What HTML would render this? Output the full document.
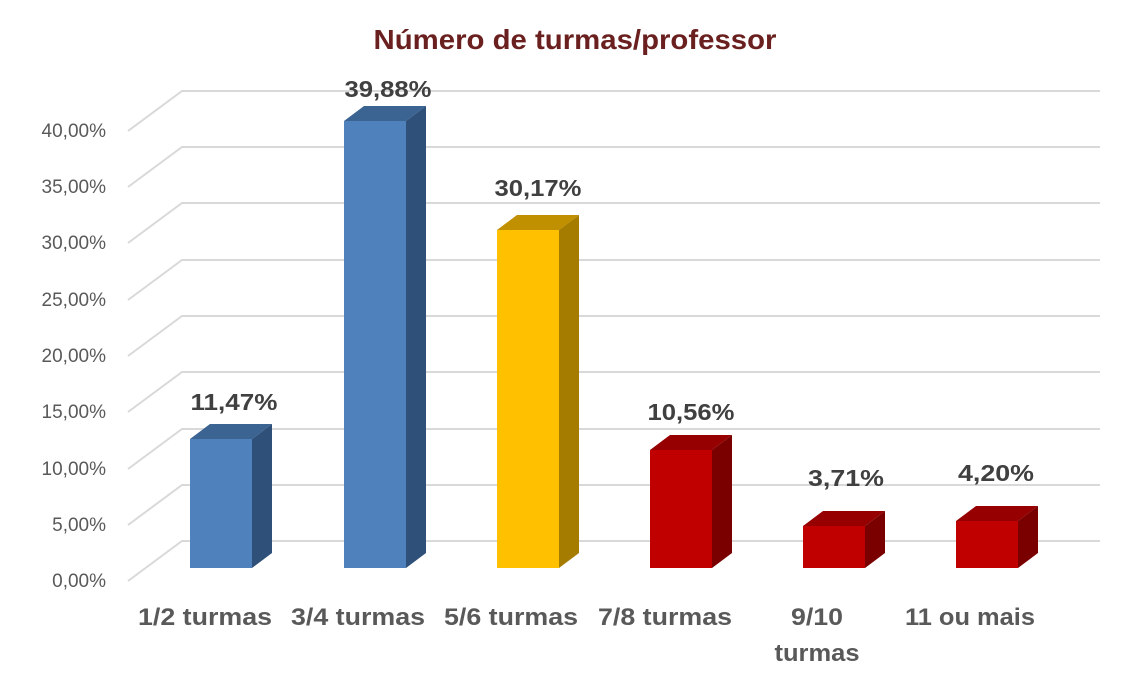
<!DOCTYPE html>
<html><head><meta charset="utf-8"><style>body{margin:0;background:#fff}svg{display:block}</style></head><body>
<svg width="1147" height="687" xmlns="http://www.w3.org/2000/svg" font-family="Liberation Sans, sans-serif">
<rect width="1147" height="687" fill="#fff"/>
<text x="575" y="49" text-anchor="middle" font-size="28" font-weight="bold" fill="#6B2020" textLength="403" lengthAdjust="spacingAndGlyphs">Número de turmas/professor</text>
<g stroke="#D9D9D9" stroke-width="2" fill="none">
<path d="M128 581L182 541H1100M128 525L182 485H1100M128 469L182 429H1100M128 412L182 372H1100M128 356L182 316H1100M128 300L182 260H1100M128 243L182 203H1100M128 187L182 147H1100M128 131L182 91H1100"/>
</g>
<g font-size="19" fill="#595959" text-anchor="end">
<text x="106" y="587">0,00%</text><text x="106" y="531">5,00%</text><text x="106" y="475">10,00%</text><text x="106" y="418">15,00%</text><text x="106" y="362">20,00%</text><text x="106" y="306">25,00%</text><text x="106" y="249">30,00%</text><text x="106" y="193">35,00%</text><text x="106" y="137">40,00%</text>
</g>
<g>
<polygon points="190,439 210,424 272,424 252,439" fill="#3B6493"/><rect x="190" y="439" width="62" height="129" fill="#4F81BD"/><polygon points="252,439 272,424 272,553 252,568" fill="#2F5078"/>
<polygon points="344,121 364,106 426,106 406,121" fill="#3B6493"/><rect x="344" y="121" width="62" height="447" fill="#4F81BD"/><polygon points="406,121 426,106 426,553 406,568" fill="#2F5078"/>
<polygon points="497,230 517,215 579,215 559,230" fill="#C09000"/><rect x="497" y="230" width="62" height="338" fill="#FFC000"/><polygon points="559,230 579,215 579,553 559,568" fill="#A67C00"/>
<polygon points="650,450 670,435 732,435 712,450" fill="#960000"/><rect x="650" y="450" width="62" height="118" fill="#C00000"/><polygon points="712,450 732,435 732,553 712,568" fill="#7A0000"/>
<polygon points="803,526 823,511 885,511 865,526" fill="#960000"/><rect x="803" y="526" width="62" height="42" fill="#C00000"/><polygon points="865,526 885,511 885,553 865,568" fill="#7A0000"/>
<polygon points="956,521 976,506 1038,506 1018,521" fill="#960000"/><rect x="956" y="521" width="62" height="47" fill="#C00000"/><polygon points="1018,521 1038,506 1038,553 1018,568" fill="#7A0000"/>
</g>
<g font-size="23" font-weight="bold" fill="#404040" text-anchor="middle">
<text x="234" y="410" textLength="87" lengthAdjust="spacingAndGlyphs">11,47%</text><text x="388" y="97" textLength="87" lengthAdjust="spacingAndGlyphs">39,88%</text><text x="538" y="196" textLength="87" lengthAdjust="spacingAndGlyphs">30,17%</text><text x="691" y="420" textLength="87" lengthAdjust="spacingAndGlyphs">10,56%</text><text x="846" y="486" textLength="76" lengthAdjust="spacingAndGlyphs">3,71%</text><text x="996" y="481" textLength="76" lengthAdjust="spacingAndGlyphs">4,20%</text>
</g>
<g font-size="24" font-weight="bold" fill="#595959" text-anchor="middle">
<text x="205" y="625" textLength="134" lengthAdjust="spacingAndGlyphs">1/2 turmas</text><text x="358" y="625" textLength="134" lengthAdjust="spacingAndGlyphs">3/4 turmas</text><text x="511" y="625" textLength="134" lengthAdjust="spacingAndGlyphs">5/6 turmas</text><text x="665" y="625" textLength="134" lengthAdjust="spacingAndGlyphs">7/8 turmas</text><text x="817" y="625" textLength="52" lengthAdjust="spacingAndGlyphs">9/10</text><text x="817" y="661" textLength="85" lengthAdjust="spacingAndGlyphs">turmas</text><text x="970" y="625" textLength="130" lengthAdjust="spacingAndGlyphs">11 ou mais</text>
</g>
</svg>
</body></html>
